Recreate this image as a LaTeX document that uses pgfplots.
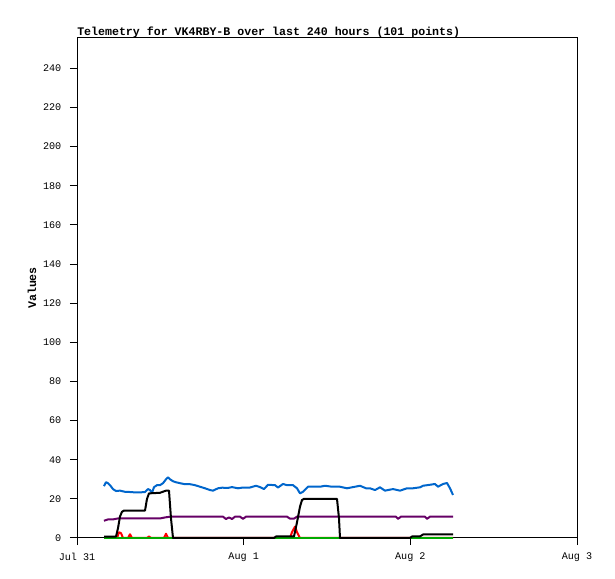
\documentclass[border=0pt]{standalone}
\usepackage{pgfplots}
\pgfplotsset{compat=1.18}
\usepackage{fontspec}
\setmainfont{Liberation Mono}

\definecolor{tblue}{RGB}{0,102,204}
\definecolor{tpurple}{RGB}{102,0,102}
\definecolor{tgreen}{RGB}{0,170,0}

\begin{document}
\begin{tikzpicture}[x=1pt,y=1pt]
\path[use as bounding box] (0,0) rectangle (461.25,434.25);
\begin{axis}[
    at={(57.75pt,30.75pt)}, anchor=south west,
    scale only axis, width=375pt, height=375pt,
    xmin=0, xmax=3, ymin=0, ymax=255.5,
    xtick={0,1,2,3},
    xticklabels={Jul 31,Aug 1,Aug 2,Aug 3},
    ytick={0,20,...,240},
    tick align=outside, xtick pos=bottom, ytick pos=left,
    major tick length=5.25pt,
    axis line style={line width=0.75pt},
    every tick/.style={black, line width=0.75pt},
    tick label style={font=\fontsize{7.6}{8}\selectfont},
    xticklabel style={yshift=-2.25pt},
    yticklabel style={xshift=-3pt},
    /pgf/number format/assume math mode=true,
    title={\bfseries Telemetry for VK4RBY-B over last 240 hours (101 points)},
    title style={at={(rel axis cs:0,1)}, anchor=base west, yshift=-4.5pt,
        inner sep=0pt, font=\fontsize{8.7}{9}\selectfont},
    every axis plot/.append style={line width=1.5pt, line join=round, mark=none},
    clip=false,
]
% blue
\addplot[tblue] coordinates {
(0.162,26.5)(0.174,28.5)(0.186,28)(0.198,27)(0.216,25)(0.234,24)(0.258,24.2)
(0.288,23.6)(0.318,23.5)(0.348,23.3)(0.378,23.3)(0.408,23.5)(0.426,25)(0.438,24.5)
(0.450,23)(0.462,26)(0.480,27)(0.498,27)(0.516,28)(0.534,30)(0.546,31)(0.558,30)
(0.576,29)(0.594,28.5)(0.618,28)(0.648,27.5)(0.678,27.5)(0.708,27)(0.738,26.2)
(0.768,25.4)(0.798,24.5)(0.816,24.2)(0.846,25.4)(0.870,25.7)(0.906,25.6)(0.930,26)
(0.966,25.4)(0.996,25.8)(1.038,25.8)(1.074,26.7)(1.098,26)(1.122,25)(1.146,27.2)
(1.188,27)(1.206,25.8)(1.236,27.6)(1.260,27)(1.296,27)(1.320,25.4)(1.338,22.8)
(1.356,23.6)(1.386,26.2)(1.428,26.2)(1.458,26.2)(1.488,26.7)(1.530,26.2)(1.578,26.2)
(1.620,25.4)(1.656,26)(1.698,26.7)(1.734,25.4)(1.758,25.4)(1.788,24.5)(1.818,25.9)
(1.848,24.2)(1.896,25)(1.938,24.2)(1.980,25.4)(2.016,25.4)(2.058,25.9)(2.076,26.7)
(2.118,27.2)(2.148,27.6)(2.166,26.2)(2.196,27.6)(2.220,28.1)(2.238,25.4)(2.256,22)
};
% purple
\addplot[tpurple] coordinates {
(0.162,8.8)(0.186,9.5)(0.216,9.5)(0.246,10.0)(0.498,10.0)(0.528,10.5)(0.558,10.9)
(0.876,10.9)(0.894,9.7)(0.912,10.5)(0.930,9.7)(0.948,10.9)(0.978,10.9)(0.996,9.8)
(1.014,10.9)(1.260,10.9)(1.278,9.9)(1.302,9.9)(1.320,10.9)(1.914,10.9)(1.926,9.8)
(1.944,10.9)(2.088,10.9)(2.100,9.8)(2.118,10.9)(2.256,10.9)
};
% red
\addplot[red] coordinates {
(0.162,0)(0.240,0)(0.252,2.9)(0.264,2.5)(0.276,0)(0.306,0)(0.318,1.9)(0.330,0)
(0.420,0)(0.432,0.8)(0.444,0)(0.522,0)(0.534,2.2)(0.546,0)(1.278,0)(1.290,3)
(1.308,5.8)(1.320,3)(1.338,0)(2.256,0)
};
% green
\addplot[tgreen] coordinates {(0.162,0)(2.256,0)};
% black
\addplot[black] coordinates {
(0.162,0.7)(0.234,0.7)(0.246,5)(0.258,11)(0.270,13.4)(0.282,14)(0.408,14)(0.420,20)
(0.432,22.8)(0.498,23.1)(0.534,24.2)(0.552,24.2)(0.564,10)(0.576,0)(1.182,0)
(1.194,0.8)(1.302,0.8)(1.320,8)(1.338,16)(1.350,19.4)(1.362,20)(1.560,20)(1.572,10)
(1.578,0)(1.998,0)(2.010,0.8)(2.058,0.8)(2.076,1.8)(2.256,1.8)
};
\end{axis}
\node[rotate=90, font=\bfseries\fontsize{8.7}{9}\selectfont] at (24,218.25) {Values};
\end{tikzpicture}
\end{document}
